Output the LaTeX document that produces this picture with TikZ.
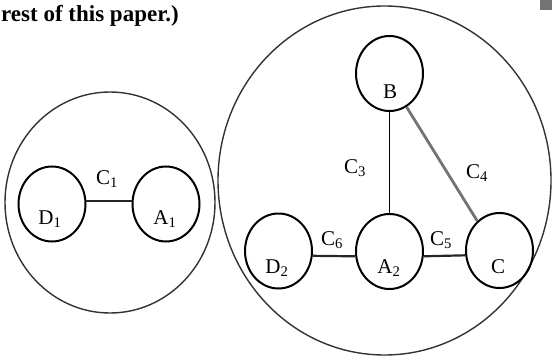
\documentclass[tikz,border=0pt]{standalone}
\usepackage{fontspec}
\setmainfont{Liberation Serif}
\usetikzlibrary{shapes.geometric}
\newcommand\sbs[1]{\textsubscript{#1}}
\begin{document}
\begin{tikzpicture}[x=1pt,y=-1pt,
  every node/.style={font=\fontsize{21}{24}\selectfont},
  bigc/.style={draw=black!80, line width=1.4pt},
  smallc/.style={ellipse, draw=black, line width=2pt, inner sep=0pt, minimum width=67pt, minimum height=75pt},
  lbl/.style={inner sep=0pt},
  link/.style={draw=black!85, line width=2.2pt},
  thinlink/.style={draw=black, line width=1.5pt},
  greylink/.style={draw=black!55, line width=2.8pt}
]
\useasboundingbox (0,0) rectangle (552,356);
% top text and grey square
\node[anchor=base west, inner sep=0pt, font=\fontsize{23}{26}\selectfont\bfseries] (toptext) at (1,21) {rest of this paper.)};
\fill[black!55] (540,0) rectangle (552,10);
% big circles
\draw[bigc] (110,202.5) ellipse [x radius=105, y radius=110.5];
\draw[bigc] (384.5,180.5) ellipse [x radius=166.5, y radius=174.5];
% small circles
\node[smallc] (D1) at (52,204) {};
\node[smallc] (A1) at (166,204) {};
\node[smallc] (B) at (389.5,73.5) {};
\node[smallc] (A2) at (389.5,251.5) {};
\node[smallc] (D2) at (278.5,251) {};
\node[smallc] (C) at (499.5,250.5) {};
% labels in circles
\node[lbl] (D1t) at (50,219) {D\sbs{1}};
\node[lbl] (A1t) at (165,219) {A\sbs{1}};
\node[lbl] (Bt) at (390,92) {B};
\node[lbl] (A2t) at (389,268) {A\sbs{2}};
\node[lbl] (D2t) at (277,268) {D\sbs{2}};
\node[lbl] (Ct) at (498,267) {C};
% connectors
\draw[link] (D1.5) -- (A1.175);
\draw[thinlink] (B.south) -- (A2.north);
\draw[greylink] (B.-63) -- (C.127);
\draw[link] (A2.-8) -- (C.188);
\draw[link] (D2.-8) -- (A2.188);
% connector labels
\node[lbl] (C1t) at (107,179) {C\sbs{1}};
\node[lbl] (C3t) at (355,168) {C\sbs{3}};
\node[lbl] (C4t) at (477,173) {C\sbs{4}};
\node[lbl] (C6t) at (332,240) {C\sbs{6}};
\node[lbl] (C5t) at (441,240) {C\sbs{5}};
\end{tikzpicture}
\end{document}
